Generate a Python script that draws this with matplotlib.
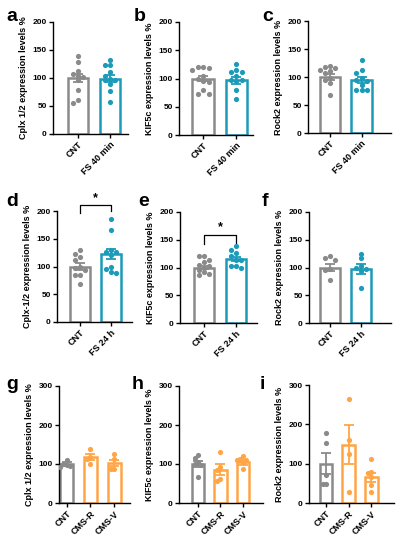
import matplotlib
matplotlib.use('Agg')
import matplotlib.pyplot as plt
import numpy as np

plt.rcParams['font.family'] = ['Liberation Sans', 'DejaVu Sans']
plt.rcParams['font.weight'] = 'bold'

GRAY = '#8a8a8a'
TEAL = '#1c9bb8'
ORANGE = '#ffa545'

# panel letters
letters = ['a', 'b', 'c', 'd', 'e', 'f', 'g', 'h', 'i']

# y axis labels
ylabels = ['Cplx 1/2 expression levels %', 'KIF5c expression levels %', 'Rock2 expression levels %',
           'Cplx-1/2 expression levels %', 'KIF5c expression levels %', 'Rock2 expression levels %',
           'Cplx 1/2 expression levels %', 'KIF5c expression levels %', 'Rock2 expression levels %']

# group names
groups_40 = ['CNT', 'FS 40 min']
groups_24 = ['CNT', 'FS 24 h']
groups_cms = ['CNT', 'CMS-R', 'CMS-V']

# bar means and SEM per panel
means = [[100, 99], [100, 97], [100, 95],
         [100, 123], [100, 115], [100, 97],
         [100, 118, 103], [100, 85, 104], [100, 148, 65]]
sems = [[8, 7], [5, 6], [5, 5],
        [6, 9], [3, 4], [7, 9],
        [5, 8, 8], [8, 14, 6], [27, 50, 11]]

# individual points per panel
points = [
    [[140, 128, 113, 108, 104, 101, 96, 78, 60, 55],
     [132, 124, 124, 111, 104, 99, 96, 96, 90, 76, 58]],
    [[121, 121, 119, 115, 104, 100, 96, 93, 79, 73, 73],
     [125, 115, 112, 112, 104, 97, 97, 95, 79, 64]],
    [[120, 118, 116, 113, 110, 107, 98, 95, 89, 68],
     [131, 113, 107, 98, 95, 92, 86, 77, 77, 77]],
    [[130, 123, 118, 111, 100, 98, 94, 84, 84, 69],
     [186, 165, 130, 127, 126, 120, 99, 95, 90, 88]],
    [[121, 120, 114, 110, 105, 103, 100, 95, 92, 86, 88],
     [138, 132, 126, 121, 114, 114, 102, 100, 102]],
    [[120, 118, 114, 98, 96, 78],
     [125, 117, 102, 100, 97, 93, 63]],
    [[109, 97, 95, 92, 100],
     [139, 118, 114, 101],
     [126, 114, 88, 88]],
    [[122, 116, 104, 101, 97, 67],
     [131, 92, 62, 57, 85],
     [120, 114, 110, 109, 104, 88]],
    [[177, 153, 71, 49, 49],
     [264, 160, 124, 28],
     [113, 79, 77, 66, 45, 28]],
]

# axes placement in pixels: left, right, top, bottom and xlim
W, H = 396, 550
boxes = [(53, 128, 22, 134), (179, 253, 22, 135), (308, 391, 21, 133),
         (57, 132, 211, 322), (180, 257, 212, 323), (309, 391, 212, 323),
         (59, 130, 386, 503), (179, 263, 386, 503), (309, 394, 385, 503)]
xlims = [(-0.78, 1.56), (-0.73, 1.5), (-0.71, 1.94),
         (-0.74, 1.68), (-0.75, 1.66), (-0.68, 1.97),
         (-0.32, 2.67), (-0.84, 2.9), (-0.74, 3.0)]
letter_pos = [(6, 8), (134, 8), (262, 8), (6, 193), (138, 193), (262, 193),
              (6, 376), (132, 376), (260, 376)]


def swarm(vals, ymax, step):
    vals = np.asarray(vals, dtype=float)
    order = np.argsort(-vals)
    placed = []
    offs = np.zeros(len(vals))
    thr = ymax * 0.04
    for i in order:
        for k in [0, -1, 1, -2, 2, -3, 3]:
            x = k * step
            ok = all(not (abs(x - px) < step * 0.9 and abs(vals[i] - py) < thr) for px, py in placed)
            if ok:
                break
        offs[i] = x
        placed.append((x, vals[i]))
    return offs


fig = plt.figure(figsize=(W / 100, H / 100), dpi=100)

for p in range(9):
    l, r, t, b = boxes[p]
    ax = fig.add_axes([l / W, 1 - b / H, (r - l) / W, (b - t) / H])
    if p < 3:
        names = groups_40
    elif p < 6:
        names = groups_24
    else:
        names = groups_cms
    if p < 6:
        colors = [GRAY, TEAL]
        ymax = 200
        ticks = [0, 50, 100, 150, 200]
        width = 0.65
    else:
        colors = [GRAY, ORANGE, ORANGE]
        ymax = 300
        ticks = [0, 100, 200, 300]
        width = 0.55
    xs = np.arange(len(names))
    ax.bar(xs, means[p], width=width, color='white', edgecolor=colors, linewidth=1.8, zorder=1)
    for j in range(len(names)):
        offs = swarm(points[p][j], ymax, width * 0.25)
        ax.scatter(xs[j] + offs, points[p][j], s=14, color=colors[j], zorder=3, linewidths=0)
        ax.errorbar(xs[j], means[p][j], yerr=sems[p][j], color=colors[j], capsize=3.5,
                    elinewidth=1.3, capthick=1.3, zorder=4)
    ax.set_xlim(*xlims[p])
    ax.set_ylim(0, ymax)
    ax.set_yticks(ticks)
    ax.set_xticks(xs)
    ax.set_xticklabels(names, rotation=45, ha='right', rotation_mode='anchor', fontsize=6.5, fontweight='bold')
    for lab in ax.get_yticklabels():
        lab.set_fontsize(6)
        lab.set_fontweight('bold')
    ax.tick_params(axis='both', length=3, width=1, pad=1.5)
    ax.spines['top'].set_visible(False)
    ax.spines['right'].set_visible(False)
    ax.spines['left'].set_linewidth(1)
    ax.spines['bottom'].set_linewidth(1)
    ax.set_ylabel(ylabels[p], fontsize=6.5, fontweight='bold', labelpad=3)
    fig.text(letter_pos[p][0] / W, 1 - letter_pos[p][1] / H, letters[p], fontsize=14,
             fontweight='bold', va='top', ha='left')

    # significance brackets
    if p == 3:
        ax.plot([0, 0, 1, 1], [196, 210, 210, 200], color='black', lw=0.9, clip_on=False)
        ax.text(0.5, 212, '*', ha='center', va='bottom', fontsize=9, fontweight='bold')
    if p == 4:
        ax.plot([0, 0, 1, 1], [143, 159, 159, 145], color='black', lw=0.9, clip_on=False)
        ax.text(0.5, 161, '*', ha='center', va='bottom', fontsize=9, fontweight='bold')

fig.savefig('out.png', dpi=100)
